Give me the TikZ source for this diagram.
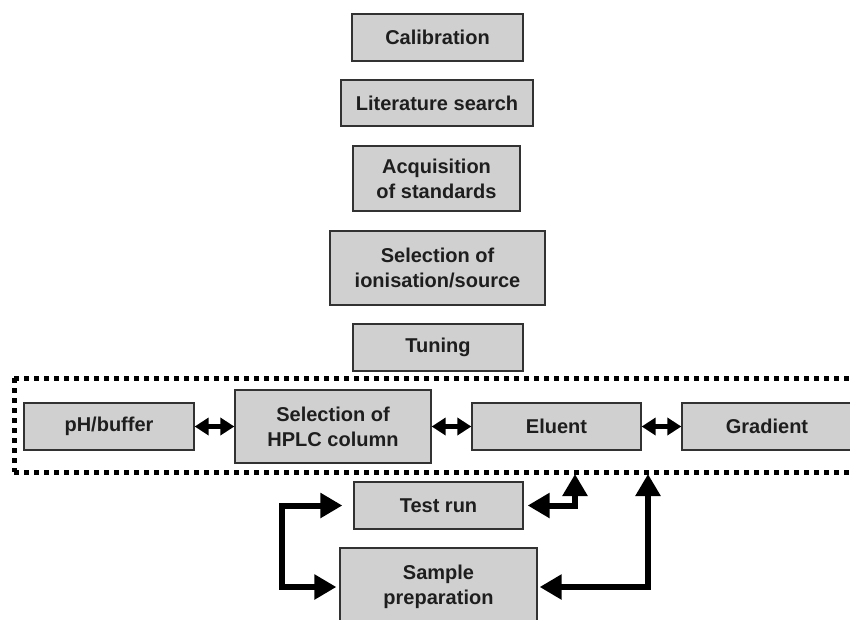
\documentclass[tikz,border=0pt]{standalone}
\usepackage{fontspec}
\setmainfont{Liberation Sans}
\usetikzlibrary{arrows.meta}
\definecolor{boxfill}{RGB}{208,208,208}
\definecolor{boxline}{RGB}{50,50,50}
\definecolor{txt}{RGB}{30,30,30}
\tikzset{
  stepbox/.style={draw=boxline, fill=boxfill, line width=1.3pt, inner sep=0pt, text=txt,
    align=center, font=\fontsize{20}{25}\selectfont\bfseries},
  smallarrow/.style={line width=4.5pt, {Triangle[length=14pt,width=17pt]}-{Triangle[length=14pt,width=17pt]}},
  bigarrow/.style={line width=6pt, line join=miter, {Triangle[length=22pt,width=24pt]}-{Triangle[length=22pt,width=24pt]}},
  dotbox/.style={line width=5pt, dash pattern=on 5pt off 5pt}
}
\begin{document}
\begin{tikzpicture}[x=1pt,y=-1pt]
\clip (0,0) rectangle (850,619);
\fill[white] (0,0) rectangle (850,619);
\node[stepbox, minimum width=171pt, minimum height=47pt] (cal) at (437.5,37.5) {Calibration};
\node[stepbox, minimum width=192pt, minimum height=46pt] (lit) at (437,103) {Literature search};
\node[stepbox, minimum width=167pt, minimum height=65pt] (acq) at (436.5,178.5) {Acquisition\\of standards};
\node[stepbox, minimum width=215pt, minimum height=74pt] (ion) at (437.5,268) {Selection of\\ionisation/source};
\node[stepbox, minimum width=170pt, minimum height=47pt] (tun) at (438,347.5) {Tuning};
\draw[dotbox] (14,378) -- (14,472);
\draw[dotbox] (14,378) -- (870,378);
\draw[dotbox] (14,472) -- (870,472);
\node[stepbox, minimum width=170pt, minimum height=47pt] (ph) at (109,426.5) {pH/buffer};
\node[stepbox, minimum width=196pt, minimum height=73pt] (hplc) at (333,426.5) {Selection of\\HPLC column};
\node[stepbox, minimum width=169pt, minimum height=47pt] (elu) at (556.5,426.5) {Eluent};
\node[stepbox, minimum width=170pt, minimum height=47pt] (grad) at (767,426.5) {Gradient};
\node[stepbox, minimum width=169pt, minimum height=47pt] (test) at (438.5,505.5) {Test run};
\node[stepbox, minimum width=197pt, minimum height=78pt] (sample) at (438.5,587) {Sample\\preparation};
\draw[smallarrow] (ph.east) -- (hplc.west);
\draw[smallarrow] (hplc.east) -- (elu.west);
\draw[smallarrow] (elu.east) -- (grad.west);
\coordinate (c1) at (575,474);
\coordinate (c2) at (648,474);
\coordinate (c3) at (282,0);
\draw[bigarrow] ([xshift=-11pt]test.west) -| (c3|-sample.west) -- ([xshift=-3pt]sample.west);
\draw[bigarrow] ([xshift=4pt]test.east) -| (c1);
\draw[bigarrow] ([xshift=2pt]sample.east) -| (c2);
\end{tikzpicture}
\end{document}
